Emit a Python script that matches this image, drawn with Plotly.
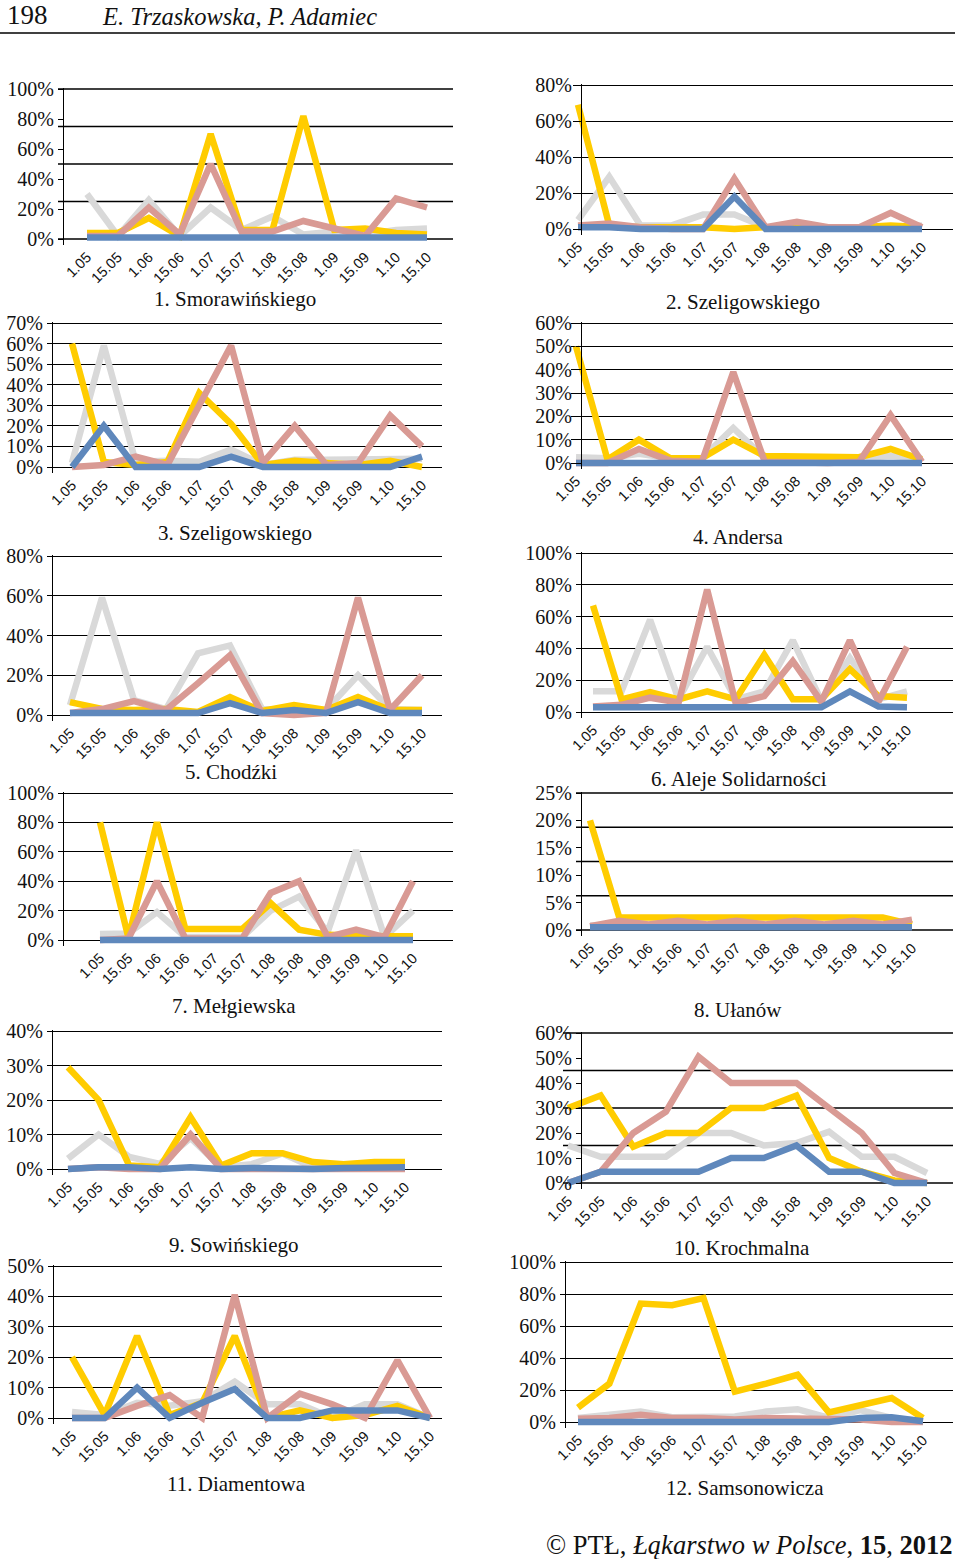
import plotly.graph_objects as go

W, H = 960, 1559

dates = ["1.05", "15.05", "1.06", "15.06", "1.07", "15.07",
         "1.08", "15.08", "1.09", "15.09", "1.10", "15.10"]

titles = ["1. Smorawińskiego", "2. Szeligowskiego", "3. Szeligowskiego", "4. Andersa",
          "5. Chodźki", "6. Aleje Solidarności", "7. Mełgiewska", "8. Ułanów",
          "9. Sowińskiego", "10. Krochmalna", "11. Diamentowa", "12. Samsonowicza"]

# values in percent; series: yellow, grey, pink, blue
yellow_1 = [4, 4, 14, 2, 70, 6, 6, 82, 6, 7, 4, 3]
grey_1 = [30, 2, 26, 2, 21, 6, 15, 3, 5, 3, 6, 7]
pink_1 = [2, 2, 21, 3, 50, 5, 5, 12, 7, 2, 27, 21]
blue_1 = [1, 1, 1, 1, 1, 1, 1, 1, 1, 1, 1, 1]

yellow_2 = [69, 2, 1, 1, 1, 0, 1, 1, 1, 1, 2, 1]
grey_2 = [5, 29, 2, 2, 8, 8, 1, 1, 1, 1, 1, 2]
pink_2 = [2, 3, 1, 0, 0, 28, 1, 4, 1, 1, 9, 1]
blue_2 = [1, 1, 0, 0, 0, 18, 0, 0, 0, 0, 0, 0]

yellow_3 = [60, 2.5, 1, 2.5, 36, 21, 1, 3, 2, 1, 3, 0]
grey_3 = [2, 59, 2.5, 3, 2.5, 8.5, 1, 3.5, 3.5, 3.5, 3.5, 4]
pink_3 = [0, 1, 5, 1, 30, 59, 2, 20, 1, 2, 25, 10]
blue_3 = [0, 20, 0, 0, 0, 5, 0, 0, 0, 0, 0, 5]

yellow_4 = [50, 1.5, 10, 2, 2, 10, 3, 3, 3, 2.5, 6, 1.5]
grey_4 = [2.5, 2, 4, 2, 2, 15, 2, 2, 2, 2, 3, 2]
pink_4 = [0, 0, 6, 1, 0.5, 39, 0.5, 0, 0, 0.5, 20.5, 0.5]
blue_4 = [0, 0, 0, 0, 0, 0, 0, 0, 0, 0, 0, 0]

yellow_5 = [6.5, 3, 2.5, 3, 1.5, 9, 2, 5, 2.5, 9, 2.5, 2.5]
grey_5 = [5, 59, 7.5, 3, 31, 35, 3, 2.5, 2.5, 20, 3, 2.5]
pink_5 = [1, 3, 7, 2.5, 16, 30, 1, 0, 1, 59, 2.5, 20]
blue_5 = [1, 1, 1, 1, 1, 6, 1, 2.5, 1, 6.5, 1, 1]

yellow_6 = [67, 8, 12.5, 8, 13, 8, 36, 8, 8, 27, 10, 9]
grey_6 = [13, 13, 58, 8, 41, 8, 13, 45, 7, 34, 8, 13]
pink_6 = [3.5, 4.5, 9, 6, 77, 5.5, 10, 32, 6.5, 45, 6.5, 41]
blue_6 = [3, 3, 3, 3, 3, 3, 3, 3, 3, 13, 3.5, 3]

yellow_7 = [80, 1.5, 80, 7.5, 7.5, 7.5, 25, 7, 3.5, 2.5, 2.5, 2.5]
grey_7 = [4, 4.5, 19, 2, 2, 2, 20, 29.5, 5.5, 61, 2, 20]
pink_7 = [0, 1, 40, 1, 1, 1, 32, 40, 2, 7, 2, 40]
blue_7 = [0, 0, 0, 0, 0, 0, 0, 0, 0, 0, 0, 0]

yellow_8 = [20, 2.3, 2.3, 2.3, 2.3, 2.3, 2.3, 2.3, 2.3, 2.3, 2.3, 1]
grey_8 = [0.8, 0.8, 0.8, 0.8, 0.8, 0.8, 0.8, 0.8, 0.8, 0.8, 0.8, 0.8]
pink_8 = [0.7, 1.7, 1, 1.7, 1, 1.7, 1, 1.7, 1, 1.7, 1, 1.9]
blue_8 = [0.5, 0.5, 0.5, 0.5, 0.5, 0.5, 0.5, 0.5, 0.5, 0.5, 0.5, 0.5]

yellow_9 = [29.5, 20, 1, 0.5, 15, 1, 4.6, 4.6, 2, 1.4, 2, 2]
grey_9 = [3, 10, 3.5, 1.5, 9, 0.5, 1.4, 4.5, 0.5, 0.5, 0.5, 0.5]
pink_9 = [0, 0.5, 0, 0, 10, 0, 0, 0, 0, 0, 0, 0]
blue_9 = [0, 0.5, 0.5, 0, 0.5, 0, 0.3, 0, 0, 0.3, 0.3, 0.5]

yellow_10 = [30, 35, 14.5, 20, 20, 30, 30, 35, 10, 4.5, 1, 0]
grey_10 = [15, 10.5, 10.5, 10.5, 20, 20, 15, 16, 20.5, 10.5, 10.5, 4]
pink_10 = [0, 4.5, 20, 28.5, 50.5, 40, 40, 40, 30, 20, 4, 0]
blue_10 = [0, 4.5, 4.5, 4.5, 4.5, 10, 10, 15, 4.5, 4.5, 0, 0]

yellow_11 = [20, 1, 27, 1, 5, 27, 0, 2.5, 0, 1, 4, 0]
grey_11 = [2, 1, 5, 4, 5.5, 12, 4.5, 4.5, 0, 4.5, 4.5, 0]
pink_11 = [0, 0, 4, 7.5, 0, 40.5, 0, 8, 4.5, 0, 19, 0]
blue_11 = [0, 0, 10, 0, 5, 9.5, 0, 0, 2.5, 2.5, 2.5, 0]

yellow_12 = [9, 24, 74, 73, 77.5, 19, 24, 29.5, 6, 10, 15, 2.5]
grey_12 = [2.5, 4.5, 6.5, 3, 3, 3.5, 6.5, 8, 2.5, 7.5, 2.5, 0.5]
pink_12 = [2, 2.5, 4.5, 2.5, 2.5, 1.5, 2.5, 2.5, 1.5, 1.5, 0, 0]
blue_12 = [0, 0, 0, 0, 0, 0, 0, 0, 0, 2.5, 3, 0.5]

yellow = [yellow_1, yellow_2, yellow_3, yellow_4, yellow_5, yellow_6,
          yellow_7, yellow_8, yellow_9, yellow_10, yellow_11, yellow_12]
grey = [grey_1, grey_2, grey_3, grey_4, grey_5, grey_6,
        grey_7, grey_8, grey_9, grey_10, grey_11, grey_12]
pink = [pink_1, pink_2, pink_3, pink_4, pink_5, pink_6,
        pink_7, pink_8, pink_9, pink_10, pink_11, pink_12]
blue = [blue_1, blue_2, blue_3, blue_4, blue_5, blue_6,
        blue_7, blue_8, blue_9, blue_10, blue_11, blue_12]

# y-axis maxima, label steps and gridline steps (percent)
y_max = [100, 80, 70, 60, 80, 100, 100, 25, 40, 60, 50, 100]
label_step = [20, 20, 10, 10, 20, 20, 20, 5, 10, 10, 10, 20]
grid_step = [25, 20, 10, 10, 20, 20, 20, 6.25, 10, 15, 10, 20]

# panel geometry in pixels: axis x, right x, top y, zero y, first pt x, last pt x, title x, title y
geom = [
    (63, 453, 89, 239, 87, 427, 235, 299),
    (581, 953, 85, 229, 578, 922, 743, 302),
    (52, 442, 323, 467, 72, 422, 235, 533),
    (581, 953, 323, 463, 576, 922, 738, 537),
    (52, 442, 556, 715, 70, 422, 231, 772),
    (581, 953, 553, 712, 593, 907, 739, 779),
    (63, 453, 793, 940, 100, 413, 234, 1006),
    (581, 953, 793, 930, 590, 912, 738, 1010),
    (52, 442, 1031, 1169, 68, 405, 234, 1245),
    (581, 953, 1033, 1183, 568, 927, 742, 1248),
    (53, 442, 1266, 1418, 72, 430, 236, 1484),
    (565, 953, 1262, 1422, 578, 923, 745, 1488),
]

colors = {"grey": "#D9D9D9", "yellow": "#FFCC00", "pink": "#D99A94", "blue": "#5F88BC"}
LW = 6.5
SERIF = "Liberation Serif"

fig = go.Figure()
shapes = []
annotations = []

for i in range(12):
    n = i + 1
    ax_px, right_px, top_px, zero_px, first_px, last_px, tx, ty = geom[i]
    ymx = y_max[i]
    per_px = ymx / (zero_px - top_px)
    below = 6
    dom_x0 = min(ax_px - 5, first_px - 5)
    s = (last_px - first_px) / 11.0
    xr = [-(first_px - dom_x0) / s, 11 + (right_px - last_px) / s]
    yr = [-below * per_px, ymx + 1.5 * per_px]
    xd = [dom_x0 / W, right_px / W]
    yd = [1 - (zero_px + below) / H, 1 - (top_px - 1.5) / H]

    xname = "x" if n == 1 else f"x{n}"
    yname = "y" if n == 1 else f"y{n}"
    for key, data in (("grey", grey[i]), ("yellow", yellow[i]),
                      ("pink", pink[i]), ("blue", blue[i])):
        fig.add_trace(go.Scatter(
            x=dates, y=data, mode="lines", xaxis=xname, yaxis=yname,
            line=dict(color=colors[key], width=LW), showlegend=False,
            hoverinfo="skip"))

    nl = int(round(ymx / label_step[i]))
    tv = [label_step[i] * k for k in range(nl + 1)]
    tt = [f"{v:g}%" for v in tv]
    aligned = abs(label_step[i] - grid_step[i]) < 1e-9

    xa = dict(domain=xd, range=xr, type="category", anchor=yname,
              showline=False, showgrid=False, zeroline=False, ticks="",
              tickangle=-45, tickfont=dict(family="Liberation Sans", size=14.5, color="#111"),
              automargin=False, fixedrange=True)
    ya = dict(domain=yd, range=yr, anchor="free", position=ax_px / W,
              showline=True, linecolor="black", linewidth=1.3,
              tickmode="array", tickvals=tv, ticktext=tt,
              ticks="outside", ticklen=5, tickcolor="black", tickwidth=1.3,
              showgrid=aligned, gridcolor="black", gridwidth=1.3,
              zeroline=False, tickfont=dict(family=SERIF, size=20, color="#111"),
              automargin=False, fixedrange=True)
    fig.update_layout(**{("xaxis" if n == 1 else f"xaxis{n}"): xa,
                         ("yaxis" if n == 1 else f"yaxis{n}"): ya})

    if not aligned:
        ng = int(round(ymx / grid_step[i]))
        for k in range(ng + 1):
            v = grid_step[i] * k
            shapes.append(dict(type="line", xref=f"{xname} domain", x0=0, x1=1,
                               yref=yname, y0=v, y1=v, layer="below",
                               line=dict(color="black", width=1.3)))

    annotations.append(dict(text=titles[i], x=tx / W, y=1 - ty / H,
                            xref="paper", yref="paper", xanchor="center", yanchor="middle",
                            showarrow=False, font=dict(family=SERIF, size=21, color="#111")))

# header and footer
annotations.append(dict(text="198", x=5 / W, y=1 - 15 / H, xref="paper", yref="paper",
                        xanchor="left", yanchor="middle", showarrow=False,
                        font=dict(family=SERIF, size=27, color="#111")))
annotations.append(dict(text="<i>E. Trzaskowska, P. Adamiec</i>", x=100 / W, y=1 - 16 / H,
                        xref="paper", yref="paper", xanchor="left", yanchor="middle",
                        showarrow=False, font=dict(family=SERIF, size=24.5, color="#111")))
annotations.append(dict(text="© PTŁ, <i>Łąkarstwo w Polsce</i>, <b>15</b>, <b>2012</b>",
                        x=955 / W, y=1 - 1545 / H, xref="paper", yref="paper",
                        xanchor="right", yanchor="middle", showarrow=False,
                        font=dict(family=SERIF, size=26.5, color="#111")))
shapes.append(dict(type="line", xref="paper", yref="paper", x0=0, x1=955 / W,
                   y0=1 - 33 / H, y1=1 - 33 / H, line=dict(color="black", width=1.5)))

fig.update_layout(width=W, height=H,
                  margin=dict(l=0, r=0, t=0, b=0, pad=0, autoexpand=False),
                  paper_bgcolor="white", plot_bgcolor="rgba(0,0,0,0)",
                  shapes=shapes, annotations=annotations, showlegend=False)

fig.write_html("out.html", config={"displayModeBar": False},
               post_script="document.body.style.margin='0';document.body.style.overflow='hidden';")
